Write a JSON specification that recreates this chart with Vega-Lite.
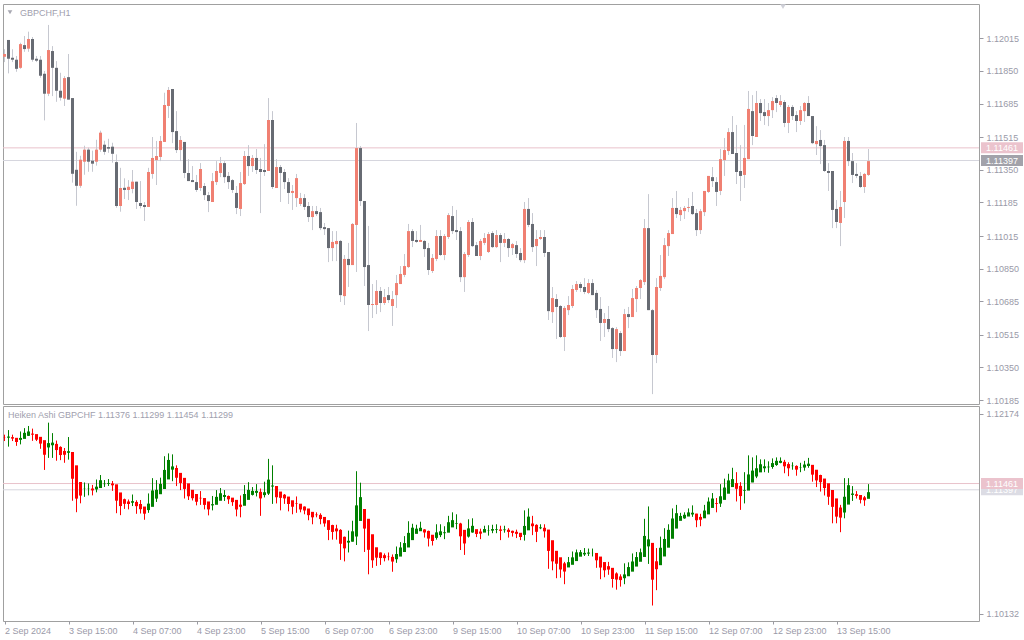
{
"$schema":"https://vega.github.io/schema/vega-lite/v6.json",
"background":"#ffffff",
"padding":{"left":2,"top":3,"right":0,"bottom":0},
"spacing":2,
"bounds":"flush",
"config":{"view":{"stroke":"#a0a0a0","strokeWidth":1},"font":"Liberation Sans","concat":{"spacing":2},"axis":{"labelOverlap":false,"labelSeparation":0},"scale":{"continuousPadding":0}},
"datasets":{
"levels":[{"lv":1.11397,"lab":"1.11397","kind":"bid"},{"lv":1.11461,"lab":"1.11461","kind":"ask"}],
"t1":[{"t":"GBPCHF,H1"}],
"t2":[{"t":"Heiken Ashi GBPCHF 1.11376 1.11299 1.11454 1.11299"}],
"bars":[
{"i":0,"o":1.11922,"h":1.11960,"l":1.11895,"c":1.11936,"ho":1.11930,"hc":1.11928},
{"i":1,"o":1.12007,"h":1.12007,"l":1.11838,"c":1.11912,"ho":1.11929,"hc":1.11941},
{"i":2,"o":1.11917,"h":1.11960,"l":1.11895,"c":1.11907,"ho":1.11935,"hc":1.11920},
{"i":3,"o":1.11907,"h":1.11926,"l":1.11846,"c":1.11861,"ho":1.11928,"hc":1.11885},
{"i":4,"o":1.11866,"h":1.11993,"l":1.11861,"c":1.11986,"ho":1.11907,"hc":1.11927},
{"i":5,"o":1.11981,"h":1.12027,"l":1.11947,"c":1.11961,"ho":1.11917,"hc":1.11979},
{"i":6,"o":1.11963,"h":1.12049,"l":1.11947,"c":1.12012,"ho":1.11948,"hc":1.11993},
{"i":7,"o":1.12012,"h":1.12022,"l":1.11897,"c":1.11907,"ho":1.11971,"hc":1.11960},
{"i":8,"o":1.11912,"h":1.11926,"l":1.11895,"c":1.11902,"ho":1.11966,"hc":1.11909},
{"i":9,"o":1.11907,"h":1.11926,"l":1.11816,"c":1.11826,"ho":1.11938,"hc":1.11869},
{"i":10,"o":1.11836,"h":1.11850,"l":1.11600,"c":1.11735,"ho":1.11904,"hc":1.11755},
{"i":11,"o":1.11735,"h":1.12083,"l":1.11723,"c":1.11956,"ho":1.11830,"hc":1.11874},
{"i":12,"o":1.11951,"h":1.11976,"l":1.11723,"c":1.11866,"ho":1.11852,"hc":1.11879},
{"i":13,"o":1.11866,"h":1.11900,"l":1.11694,"c":1.11750,"ho":1.11866,"hc":1.11803},
{"i":14,"o":1.11750,"h":1.11841,"l":1.11700,"c":1.11715,"ho":1.11835,"hc":1.11752},
{"i":15,"o":1.11710,"h":1.11824,"l":1.11673,"c":1.11814,"ho":1.11794,"hc":1.11755},
{"i":16,"o":1.11819,"h":1.11936,"l":1.11705,"c":1.11705,"ho":1.11775,"hc":1.11791},
{"i":17,"o":1.11713,"h":1.11713,"l":1.11285,"c":1.11330,"ho":1.11783,"hc":1.11510},
{"i":18,"o":1.11350,"h":1.11441,"l":1.11168,"c":1.11269,"ho":1.11647,"hc":1.11307},
{"i":19,"o":1.11269,"h":1.11421,"l":1.11259,"c":1.11401,"ho":1.11477,"hc":1.11338},
{"i":20,"o":1.11391,"h":1.11472,"l":1.11325,"c":1.11452,"ho":1.11408,"hc":1.11410},
{"i":21,"o":1.11452,"h":1.11462,"l":1.11340,"c":1.11391,"ho":1.11409,"hc":1.11411},
{"i":22,"o":1.11396,"h":1.11447,"l":1.11340,"c":1.11381,"ho":1.11410,"hc":1.11391},
{"i":23,"o":1.11391,"h":1.11502,"l":1.11371,"c":1.11452,"ho":1.11401,"hc":1.11429},
{"i":24,"o":1.11452,"h":1.11548,"l":1.11441,"c":1.11538,"ho":1.11415,"hc":1.11495},
{"i":25,"o":1.11477,"h":1.11497,"l":1.11426,"c":1.11441,"ho":1.11455,"hc":1.11460},
{"i":26,"o":1.11465,"h":1.11507,"l":1.11436,"c":1.11457,"ho":1.11458,"hc":1.11466},
{"i":27,"o":1.11467,"h":1.11487,"l":1.11386,"c":1.11431,"ho":1.11462,"hc":1.11443},
{"i":28,"o":1.11389,"h":1.11428,"l":1.11158,"c":1.11167,"ho":1.11453,"hc":1.11286},
{"i":29,"o":1.11167,"h":1.11360,"l":1.11138,"c":1.11258,"ho":1.11370,"hc":1.11231},
{"i":30,"o":1.11259,"h":1.11307,"l":1.11202,"c":1.11248,"ho":1.11301,"hc":1.11254},
{"i":31,"o":1.11248,"h":1.11298,"l":1.11197,"c":1.11264,"ho":1.11278,"hc":1.11252},
{"i":32,"o":1.11253,"h":1.11349,"l":1.11231,"c":1.11290,"ho":1.11265,"hc":1.11281},
{"i":33,"o":1.11290,"h":1.11290,"l":1.11152,"c":1.11187,"ho":1.11273,"hc":1.11230},
{"i":34,"o":1.11182,"h":1.11293,"l":1.11155,"c":1.11167,"ho":1.11252,"hc":1.11199},
{"i":35,"o":1.11172,"h":1.11187,"l":1.11091,"c":1.11162,"ho":1.11226,"hc":1.11153},
{"i":36,"o":1.11162,"h":1.11360,"l":1.11162,"c":1.11339,"ho":1.11190,"hc":1.11256},
{"i":37,"o":1.11329,"h":1.11516,"l":1.11305,"c":1.11410,"ho":1.11223,"hc":1.11390},
{"i":38,"o":1.11399,"h":1.11496,"l":1.11273,"c":1.11420,"ho":1.11307,"hc":1.11397},
{"i":39,"o":1.11415,"h":1.11521,"l":1.11394,"c":1.11496,"ho":1.11352,"hc":1.11457},
{"i":40,"o":1.11491,"h":1.11740,"l":1.11491,"c":1.11678,"ho":1.11405,"hc":1.11600},
{"i":41,"o":1.11673,"h":1.11769,"l":1.11612,"c":1.11754,"ho":1.11503,"hc":1.11702},
{"i":42,"o":1.11759,"h":1.11759,"l":1.11485,"c":1.11541,"ho":1.11603,"hc":1.11636},
{"i":43,"o":1.11546,"h":1.11647,"l":1.11435,"c":1.11450,"ho":1.11620,"hc":1.11520},
{"i":44,"o":1.11450,"h":1.11521,"l":1.11394,"c":1.11501,"ho":1.11570,"hc":1.11467},
{"i":45,"o":1.11491,"h":1.11491,"l":1.11308,"c":1.11334,"ho":1.11519,"hc":1.11406},
{"i":46,"o":1.11334,"h":1.11404,"l":1.11293,"c":1.11293,"ho":1.11463,"hc":1.11331},
{"i":47,"o":1.11298,"h":1.11369,"l":1.11288,"c":1.11288,"ho":1.11397,"hc":1.11311},
{"i":48,"o":1.11288,"h":1.11324,"l":1.11238,"c":1.11248,"ho":1.11354,"hc":1.11275},
{"i":49,"o":1.11258,"h":1.11384,"l":1.11243,"c":1.11354,"ho":1.11315,"hc":1.11310},
{"i":50,"o":1.11268,"h":1.11283,"l":1.11197,"c":1.11222,"ho":1.11313,"hc":1.11243},
{"i":51,"o":1.11222,"h":1.11238,"l":1.11136,"c":1.11192,"ho":1.11278,"hc":1.11197},
{"i":52,"o":1.11187,"h":1.11334,"l":1.11187,"c":1.11293,"ho":1.11238,"hc":1.11250},
{"i":53,"o":1.11288,"h":1.11394,"l":1.11273,"c":1.11344,"ho":1.11244,"hc":1.11325},
{"i":54,"o":1.11334,"h":1.11415,"l":1.11313,"c":1.11384,"ho":1.11285,"hc":1.11362},
{"i":55,"o":1.11384,"h":1.11394,"l":1.11283,"c":1.11313,"ho":1.11324,"hc":1.11344},
{"i":56,"o":1.11319,"h":1.11339,"l":1.11253,"c":1.11288,"ho":1.11334,"hc":1.11300},
{"i":57,"o":1.11298,"h":1.11303,"l":1.11233,"c":1.11248,"ho":1.11317,"hc":1.11271},
{"i":58,"o":1.11233,"h":1.11268,"l":1.11126,"c":1.11157,"ho":1.11294,"hc":1.11196},
{"i":59,"o":1.11152,"h":1.11339,"l":1.11116,"c":1.11283,"ho":1.11245,"hc":1.11223},
{"i":60,"o":1.11278,"h":1.11445,"l":1.11273,"c":1.11420,"ho":1.11234,"hc":1.11354},
{"i":61,"o":1.11420,"h":1.11475,"l":1.11319,"c":1.11369,"ho":1.11294,"hc":1.11396},
{"i":62,"o":1.11369,"h":1.11425,"l":1.11339,"c":1.11410,"ho":1.11345,"hc":1.11386},
{"i":63,"o":1.11410,"h":1.11455,"l":1.11329,"c":1.11349,"ho":1.11366,"hc":1.11386},
{"i":64,"o":1.11354,"h":1.11410,"l":1.11131,"c":1.11339,"ho":1.11376,"hc":1.11309},
{"i":65,"o":1.11349,"h":1.11480,"l":1.11319,"c":1.11339,"ho":1.11343,"hc":1.11372},
{"i":66,"o":1.11344,"h":1.11713,"l":1.11344,"c":1.11602,"ho":1.11358,"hc":1.11501},
{"i":67,"o":1.11602,"h":1.11647,"l":1.11253,"c":1.11263,"ho":1.11430,"hc":1.11441},
{"i":68,"o":1.11258,"h":1.11404,"l":1.11258,"c":1.11364,"ho":1.11436,"hc":1.11321},
{"i":69,"o":1.11364,"h":1.11374,"l":1.11187,"c":1.11334,"ho":1.11379,"hc":1.11315},
{"i":70,"o":1.11339,"h":1.11354,"l":1.11253,"c":1.11288,"ho":1.11347,"hc":1.11309},
{"i":71,"o":1.11288,"h":1.11308,"l":1.11177,"c":1.11233,"ho":1.11328,"hc":1.11252},
{"i":72,"o":1.11233,"h":1.11273,"l":1.11147,"c":1.11243,"ho":1.11290,"hc":1.11224},
{"i":73,"o":1.11207,"h":1.11329,"l":1.11162,"c":1.11308,"ho":1.11257,"hc":1.11252},
{"i":74,"o":1.11177,"h":1.11233,"l":1.11167,"c":1.11207,"ho":1.11255,"hc":1.11196},
{"i":75,"o":1.11207,"h":1.11227,"l":1.11147,"c":1.11162,"ho":1.11226,"hc":1.11186},
{"i":76,"o":1.11167,"h":1.11187,"l":1.11086,"c":1.11111,"ho":1.11206,"hc":1.11138},
{"i":77,"o":1.11111,"h":1.11167,"l":1.11045,"c":1.11141,"ho":1.11172,"hc":1.11116},
{"i":78,"o":1.11141,"h":1.11167,"l":1.11116,"c":1.11126,"ho":1.11144,"hc":1.11138},
{"i":79,"o":1.11136,"h":1.11157,"l":1.11045,"c":1.11055,"ho":1.11141,"hc":1.11098},
{"i":80,"o":1.11060,"h":1.11081,"l":1.11020,"c":1.11050,"ho":1.11120,"hc":1.11053},
{"i":81,"o":1.11055,"h":1.11055,"l":1.10883,"c":1.10954,"ho":1.11087,"hc":1.10987},
{"i":82,"o":1.10954,"h":1.11040,"l":1.10888,"c":1.10985,"ho":1.11037,"hc":1.10967},
{"i":83,"o":1.10974,"h":1.11040,"l":1.10888,"c":1.10990,"ho":1.11002,"hc":1.10973},
{"i":84,"o":1.10990,"h":1.10995,"l":1.10681,"c":1.10716,"ho":1.10988,"hc":1.10846},
{"i":85,"o":1.10711,"h":1.10919,"l":1.10666,"c":1.10899,"ho":1.10917,"hc":1.10799},
{"i":86,"o":1.10899,"h":1.10980,"l":1.10757,"c":1.10868,"ho":1.10858,"hc":1.10876},
{"i":87,"o":1.10868,"h":1.11081,"l":1.10868,"c":1.11076,"ho":1.10867,"hc":1.10973},
{"i":88,"o":1.11071,"h":1.11587,"l":1.10833,"c":1.11460,"ho":1.10920,"hc":1.11238},
{"i":89,"o":1.11460,"h":1.11470,"l":1.11167,"c":1.11192,"ho":1.11079,"hc":1.11322},
{"i":90,"o":1.11192,"h":1.11192,"l":1.10762,"c":1.10858,"ho":1.11201,"hc":1.11001},
{"i":91,"o":1.10868,"h":1.11066,"l":1.10534,"c":1.10666,"ho":1.11101,"hc":1.10784},
{"i":92,"o":1.10666,"h":1.10772,"l":1.10600,"c":1.10671,"ho":1.10943,"hc":1.10677},
{"i":93,"o":1.10666,"h":1.10792,"l":1.10620,"c":1.10737,"ho":1.10810,"hc":1.10704},
{"i":94,"o":1.10737,"h":1.10757,"l":1.10630,"c":1.10676,"ho":1.10757,"hc":1.10700},
{"i":95,"o":1.10676,"h":1.10747,"l":1.10666,"c":1.10706,"ho":1.10729,"hc":1.10699},
{"i":96,"o":1.10716,"h":1.10757,"l":1.10676,"c":1.10691,"ho":1.10714,"hc":1.10710},
{"i":97,"o":1.10661,"h":1.10737,"l":1.10560,"c":1.10696,"ho":1.10712,"hc":1.10664},
{"i":98,"o":1.10716,"h":1.10818,"l":1.10651,"c":1.10777,"ho":1.10688,"hc":1.10741},
{"i":99,"o":1.10772,"h":1.10863,"l":1.10772,"c":1.10823,"ho":1.10715,"hc":1.10808},
{"i":100,"o":1.10818,"h":1.10924,"l":1.10807,"c":1.10863,"ho":1.10762,"hc":1.10853},
{"i":101,"o":1.10858,"h":1.11076,"l":1.10853,"c":1.11040,"ho":1.10808,"hc":1.10957},
{"i":102,"o":1.11040,"h":1.11050,"l":1.10959,"c":1.10990,"ho":1.10883,"hc":1.11010},
{"i":103,"o":1.10995,"h":1.11040,"l":1.10980,"c":1.10985,"ho":1.10947,"hc":1.11000},
{"i":104,"o":1.10985,"h":1.11071,"l":1.10985,"c":1.10995,"ho":1.10974,"hc":1.11009},
{"i":105,"o":1.10990,"h":1.10995,"l":1.10909,"c":1.10949,"ho":1.10992,"hc":1.10961},
{"i":106,"o":1.10954,"h":1.10980,"l":1.10818,"c":1.10843,"ho":1.10977,"hc":1.10899},
{"i":107,"o":1.10838,"h":1.10924,"l":1.10828,"c":1.10904,"ho":1.10938,"hc":1.10874},
{"i":108,"o":1.10899,"h":1.11045,"l":1.10888,"c":1.11015,"ho":1.10906,"hc":1.10962},
{"i":109,"o":1.11015,"h":1.11045,"l":1.10914,"c":1.10919,"ho":1.10934,"hc":1.10973},
{"i":110,"o":1.10919,"h":1.11025,"l":1.10893,"c":1.11015,"ho":1.10954,"hc":1.10963},
{"i":111,"o":1.11010,"h":1.11131,"l":1.11000,"c":1.11121,"ho":1.10959,"hc":1.11066},
{"i":112,"o":1.11116,"h":1.11167,"l":1.11025,"c":1.11040,"ho":1.11013,"hc":1.11087},
{"i":113,"o":1.11045,"h":1.11147,"l":1.10995,"c":1.11035,"ho":1.11050,"hc":1.11056},
{"i":114,"o":1.11040,"h":1.11060,"l":1.10782,"c":1.10807,"ho":1.11053,"hc":1.10922},
{"i":115,"o":1.10807,"h":1.10934,"l":1.10732,"c":1.10924,"ho":1.10988,"hc":1.10849},
{"i":116,"o":1.10919,"h":1.11096,"l":1.10909,"c":1.11086,"ho":1.10919,"hc":1.11003},
{"i":117,"o":1.11086,"h":1.11106,"l":1.10959,"c":1.10964,"ho":1.10961,"hc":1.11029},
{"i":118,"o":1.10969,"h":1.10985,"l":1.10914,"c":1.10914,"ho":1.10995,"hc":1.10946},
{"i":119,"o":1.10914,"h":1.11000,"l":1.10893,"c":1.10990,"ho":1.10971,"hc":1.10949},
{"i":120,"o":1.10980,"h":1.11030,"l":1.10969,"c":1.11005,"ho":1.10960,"hc":1.10996},
{"i":121,"o":1.10934,"h":1.11035,"l":1.10929,"c":1.11025,"ho":1.10978,"hc":1.10981},
{"i":122,"o":1.11030,"h":1.11040,"l":1.10954,"c":1.10959,"ho":1.10980,"hc":1.10996},
{"i":123,"o":1.10959,"h":1.11045,"l":1.10954,"c":1.11020,"ho":1.10988,"hc":1.10995},
{"i":124,"o":1.11020,"h":1.11030,"l":1.10883,"c":1.10980,"ho":1.10992,"hc":1.10978},
{"i":125,"o":1.10980,"h":1.11030,"l":1.10959,"c":1.11000,"ho":1.10985,"hc":1.10992},
{"i":126,"o":1.11000,"h":1.11005,"l":1.10909,"c":1.10954,"ho":1.10989,"hc":1.10967},
{"i":127,"o":1.10954,"h":1.10980,"l":1.10919,"c":1.10974,"ho":1.10978,"hc":1.10957},
{"i":128,"o":1.10969,"h":1.10990,"l":1.10904,"c":1.10924,"ho":1.10968,"hc":1.10947},
{"i":129,"o":1.10929,"h":1.10954,"l":1.10883,"c":1.10893,"ho":1.10958,"hc":1.10915},
{"i":130,"o":1.10893,"h":1.11187,"l":1.10878,"c":1.11152,"ho":1.10937,"hc":1.11028},
{"i":131,"o":1.11152,"h":1.11207,"l":1.11060,"c":1.11071,"ho":1.10983,"hc":1.11123},
{"i":132,"o":1.11076,"h":1.11131,"l":1.10934,"c":1.10959,"ho":1.11053,"hc":1.11025},
{"i":133,"o":1.10964,"h":1.11045,"l":1.10863,"c":1.11000,"ho":1.11039,"hc":1.10968},
{"i":134,"o":1.11000,"h":1.11045,"l":1.10995,"c":1.11010,"ho":1.11004,"hc":1.11013},
{"i":135,"o":1.11010,"h":1.11045,"l":1.10909,"c":1.10929,"ho":1.11009,"hc":1.10973},
{"i":136,"o":1.10934,"h":1.10934,"l":1.10590,"c":1.10635,"ho":1.10991,"hc":1.10773},
{"i":137,"o":1.10630,"h":1.10757,"l":1.10575,"c":1.10701,"ho":1.10882,"hc":1.10666},
{"i":138,"o":1.10696,"h":1.10721,"l":1.10494,"c":1.10656,"ho":1.10774,"hc":1.10642},
{"i":139,"o":1.10661,"h":1.10666,"l":1.10499,"c":1.10504,"ho":1.10708,"hc":1.10583},
{"i":140,"o":1.10504,"h":1.10661,"l":1.10433,"c":1.10651,"ho":1.10646,"hc":1.10562},
{"i":141,"o":1.10640,"h":1.10711,"l":1.10615,"c":1.10666,"ho":1.10604,"hc":1.10658},
{"i":142,"o":1.10661,"h":1.10767,"l":1.10651,"c":1.10747,"ho":1.10631,"hc":1.10707},
{"i":143,"o":1.10742,"h":1.10787,"l":1.10732,"c":1.10772,"ho":1.10669,"hc":1.10758},
{"i":144,"o":1.10772,"h":1.10782,"l":1.10732,"c":1.10752,"ho":1.10714,"hc":1.10760},
{"i":145,"o":1.10757,"h":1.10802,"l":1.10721,"c":1.10732,"ho":1.10737,"hc":1.10753},
{"i":146,"o":1.10727,"h":1.10797,"l":1.10721,"c":1.10777,"ho":1.10745,"hc":1.10756},
{"i":147,"o":1.10777,"h":1.10797,"l":1.10716,"c":1.10716,"ho":1.10751,"hc":1.10752},
{"i":148,"o":1.10727,"h":1.10742,"l":1.10600,"c":1.10640,"ho":1.10752,"hc":1.10677},
{"i":149,"o":1.10646,"h":1.10706,"l":1.10484,"c":1.10575,"ho":1.10715,"hc":1.10603},
{"i":150,"o":1.10575,"h":1.10625,"l":1.10504,"c":1.10595,"ho":1.10659,"hc":1.10575},
{"i":151,"o":1.10595,"h":1.10661,"l":1.10529,"c":1.10544,"ho":1.10617,"hc":1.10582},
{"i":152,"o":1.10549,"h":1.10554,"l":1.10398,"c":1.10443,"ho":1.10600,"hc":1.10486},
{"i":153,"o":1.10443,"h":1.10554,"l":1.10377,"c":1.10544,"ho":1.10543,"hc":1.10480},
{"i":154,"o":1.10524,"h":1.10534,"l":1.10408,"c":1.10433,"ho":1.10512,"hc":1.10475},
{"i":155,"o":1.10433,"h":1.10646,"l":1.10433,"c":1.10620,"ho":1.10494,"hc":1.10533},
{"i":156,"o":1.10620,"h":1.10656,"l":1.10549,"c":1.10605,"ho":1.10514,"hc":1.10608},
{"i":157,"o":1.10605,"h":1.10747,"l":1.10605,"c":1.10701,"ho":1.10561,"hc":1.10665},
{"i":158,"o":1.10696,"h":1.10762,"l":1.10630,"c":1.10752,"ho":1.10613,"hc":1.10710},
{"i":159,"o":1.10752,"h":1.10797,"l":1.10696,"c":1.10792,"ho":1.10662,"hc":1.10759},
{"i":160,"o":1.10782,"h":1.11101,"l":1.10767,"c":1.11055,"ho":1.10711,"hc":1.10926},
{"i":161,"o":1.11055,"h":1.11227,"l":1.10640,"c":1.10640,"ho":1.10819,"hc":1.10891},
{"i":162,"o":1.10640,"h":1.10646,"l":1.10215,"c":1.10413,"ho":1.10855,"hc":1.10479},
{"i":163,"o":1.10413,"h":1.10802,"l":1.10372,"c":1.10757,"ho":1.10667,"hc":1.10586},
{"i":164,"o":1.10752,"h":1.10919,"l":1.10737,"c":1.10813,"ho":1.10627,"hc":1.10805},
{"i":165,"o":1.10807,"h":1.11005,"l":1.10797,"c":1.10969,"ho":1.10716,"hc":1.10895},
{"i":166,"o":1.10964,"h":1.11045,"l":1.10914,"c":1.11030,"ho":1.10806,"hc":1.10988},
{"i":167,"o":1.11025,"h":1.11207,"l":1.11025,"c":1.11157,"ho":1.10897,"hc":1.11104},
{"i":168,"o":1.11157,"h":1.11243,"l":1.11106,"c":1.11126,"ho":1.11001,"hc":1.11158},
{"i":169,"o":1.11121,"h":1.11162,"l":1.11091,"c":1.11147,"ho":1.11080,"hc":1.11130},
{"i":170,"o":1.11141,"h":1.11167,"l":1.11101,"c":1.11157,"ho":1.11105,"hc":1.11142},
{"i":171,"o":1.11157,"h":1.11207,"l":1.11136,"c":1.11162,"ho":1.11124,"hc":1.11166},
{"i":172,"o":1.11167,"h":1.11238,"l":1.11121,"c":1.11126,"ho":1.11145,"hc":1.11163},
{"i":173,"o":1.11131,"h":1.11152,"l":1.11015,"c":1.11045,"ho":1.11154,"hc":1.11086},
{"i":174,"o":1.11045,"h":1.11152,"l":1.11025,"c":1.11141,"ho":1.11120,"hc":1.11091},
{"i":175,"o":1.11136,"h":1.11243,"l":1.11116,"c":1.11243,"ho":1.11106,"hc":1.11185},
{"i":176,"o":1.11238,"h":1.11319,"l":1.11233,"c":1.11319,"ho":1.11146,"hc":1.11277},
{"i":177,"o":1.11313,"h":1.11364,"l":1.11263,"c":1.11293,"ho":1.11212,"hc":1.11308},
{"i":178,"o":1.11288,"h":1.11313,"l":1.11167,"c":1.11238,"ho":1.11260,"hc":1.11252},
{"i":179,"o":1.11243,"h":1.11455,"l":1.11222,"c":1.11404,"ho":1.11256,"hc":1.11331},
{"i":180,"o":1.11399,"h":1.11511,"l":1.11319,"c":1.11450,"ho":1.11294,"hc":1.11420},
{"i":181,"o":1.11445,"h":1.11561,"l":1.11425,"c":1.11541,"ho":1.11357,"hc":1.11493},
{"i":182,"o":1.11541,"h":1.11622,"l":1.11430,"c":1.11430,"ho":1.11425,"hc":1.11506},
{"i":183,"o":1.11435,"h":1.11577,"l":1.11278,"c":1.11339,"ho":1.11466,"hc":1.11407},
{"i":184,"o":1.11344,"h":1.11475,"l":1.11192,"c":1.11319,"ho":1.11437,"hc":1.11333},
{"i":185,"o":1.11324,"h":1.11577,"l":1.11258,"c":1.11410,"ho":1.11385,"hc":1.11392},
{"i":186,"o":1.11404,"h":1.11749,"l":1.11404,"c":1.11658,"ho":1.11389,"hc":1.11554},
{"i":187,"o":1.11647,"h":1.11728,"l":1.11475,"c":1.11521,"ho":1.11472,"hc":1.11593},
{"i":188,"o":1.11516,"h":1.11749,"l":1.11516,"c":1.11688,"ho":1.11533,"hc":1.11617},
{"i":189,"o":1.11688,"h":1.11708,"l":1.11597,"c":1.11637,"ho":1.11575,"hc":1.11658},
{"i":190,"o":1.11642,"h":1.11708,"l":1.11577,"c":1.11622,"ho":1.11617,"hc":1.11637},
{"i":191,"o":1.11622,"h":1.11688,"l":1.11571,"c":1.11652,"ho":1.11627,"hc":1.11633},
{"i":192,"o":1.11652,"h":1.11718,"l":1.11612,"c":1.11698,"ho":1.11630,"hc":1.11670},
{"i":193,"o":1.11713,"h":1.11728,"l":1.11642,"c":1.11688,"ho":1.11650,"hc":1.11693},
{"i":194,"o":1.11678,"h":1.11728,"l":1.11668,"c":1.11698,"ho":1.11672,"hc":1.11693},
{"i":195,"o":1.11693,"h":1.11703,"l":1.11566,"c":1.11587,"ho":1.11683,"hc":1.11637},
{"i":196,"o":1.11587,"h":1.11678,"l":1.11536,"c":1.11668,"ho":1.11660,"hc":1.11617},
{"i":197,"o":1.11668,"h":1.11678,"l":1.11602,"c":1.11622,"ho":1.11639,"hc":1.11643},
{"i":198,"o":1.11627,"h":1.11647,"l":1.11541,"c":1.11597,"ho":1.11641,"hc":1.11603},
{"i":199,"o":1.11597,"h":1.11673,"l":1.11577,"c":1.11652,"ho":1.11622,"hc":1.11625},
{"i":200,"o":1.11647,"h":1.11693,"l":1.11592,"c":1.11688,"ho":1.11624,"hc":1.11655},
{"i":201,"o":1.11688,"h":1.11723,"l":1.11622,"c":1.11622,"ho":1.11640,"hc":1.11664},
{"i":202,"o":1.11622,"h":1.11622,"l":1.11480,"c":1.11485,"ho":1.11652,"hc":1.11552},
{"i":203,"o":1.11480,"h":1.11571,"l":1.11425,"c":1.11496,"ho":1.11602,"hc":1.11493},
{"i":204,"o":1.11501,"h":1.11551,"l":1.11379,"c":1.11470,"ho":1.11548,"hc":1.11475},
{"i":205,"o":1.11475,"h":1.11501,"l":1.11339,"c":1.11344,"ho":1.11512,"hc":1.11415},
{"i":206,"o":1.11344,"h":1.11384,"l":1.11243,"c":1.11334,"ho":1.11464,"hc":1.11326},
{"i":207,"o":1.11344,"h":1.11344,"l":1.11055,"c":1.11147,"ho":1.11395,"hc":1.11223},
{"i":208,"o":1.11152,"h":1.11197,"l":1.11055,"c":1.11086,"ho":1.11309,"hc":1.11123},
{"i":209,"o":1.11081,"h":1.11243,"l":1.10964,"c":1.11162,"ho":1.11216,"hc":1.11113},
{"i":210,"o":1.11187,"h":1.11516,"l":1.11106,"c":1.11496,"ho":1.11165,"hc":1.11326},
{"i":211,"o":1.11496,"h":1.11516,"l":1.11369,"c":1.11394,"ho":1.11246,"hc":1.11444},
{"i":212,"o":1.11394,"h":1.11435,"l":1.11283,"c":1.11324,"ho":1.11345,"hc":1.11359},
{"i":213,"o":1.11329,"h":1.11384,"l":1.11308,"c":1.11319,"ho":1.11352,"hc":1.11335},
{"i":214,"o":1.11319,"h":1.11339,"l":1.11258,"c":1.11263,"ho":1.11344,"hc":1.11295},
{"i":215,"o":1.11263,"h":1.11334,"l":1.11233,"c":1.11329,"ho":1.11320,"hc":1.11290},
{"i":216,"o":1.11324,"h":1.11455,"l":1.11319,"c":1.11394,"ho":1.11305,"hc":1.11373}
]},
"vconcat":[
{"width":976,"height":400,
"layer":[
{"data":{"name":"levels"},"mark":{"type":"rule","strokeWidth":1},
"encoding":{"y":{"field":"lv","type":"quantitative","scale":{"domain":[1.10165,1.12189],"nice":false,"zero":false,"padding":0},
"axis":{"orient":"right","values":[1.12015,1.1185,1.11685,1.11515,1.1135,1.11185,1.11015,1.1085,1.10685,1.10515,1.1035,1.10185],"tickCount":40,"format":".5f","title":null,"grid":false,"domain":false,"tickSize":4,"tickColor":"#9a9aa2","labelPadding":3,"labelFontSize":9,"labelColor":"#9a9aa8","labelFont":"Liberation Sans","labelOverlap":false,"labelSeparation":0,"labelBound":false,"labelFlush":false}},
"color":{"condition":{"test":"datum.kind == 'ask'","value":"#e9c3cb"},"value":"#d6d6de"}}},
{"data":{"name":"bars"},"mark":{"type":"rule","color":"#c6c8d0","strokeWidth":1},
"encoding":{"x":{"field":"i","type":"quantitative","scale":{"domain":[-0.375,243.625],"nice":false,"zero":false,"padding":0},"axis":null},
"y":{"field":"l","type":"quantitative"},"y2":{"field":"h"}}},
{"data":{"name":"bars"},"mark":{"type":"bar","size":3},
"encoding":{"x":{"field":"i","type":"quantitative"},"y":{"field":"o","type":"quantitative"},"y2":{"field":"c"},
"color":{"condition":{"test":"datum.c >= datum.o","value":"#f08072"},"value":"#676b73"}}},
{"data":{"name":"levels"},"transform":[{"filter":"datum.kind == 'bid'"}],"mark":{"type":"rule","strokeWidth":11,"color":"#a2a2aa"},
"encoding":{"x":{"datum":244.125,"type":"quantitative"},"x2":{"datum":254.625},"y":{"field":"lv","type":"quantitative"}}},
{"data":{"name":"levels"},"transform":[{"filter":"datum.kind == 'bid'"}],"mark":{"type":"text","color":"#ffffff","fontSize":9,"align":"center","baseline":"middle"},
"encoding":{"x":{"datum":249.375,"type":"quantitative"},"y":{"field":"lv","type":"quantitative"},"text":{"field":"lab"}}},
{"data":{"name":"levels"},"transform":[{"filter":"datum.kind == 'ask'"}],"mark":{"type":"rule","strokeWidth":11,"color":"#ebc3cd"},
"encoding":{"x":{"datum":244.125,"type":"quantitative"},"x2":{"datum":254.625},"y":{"field":"lv","type":"quantitative"}}},
{"data":{"name":"levels"},"transform":[{"filter":"datum.kind == 'ask'"}],"mark":{"type":"text","color":"#ffffff","fontSize":9,"align":"center","baseline":"middle"},
"encoding":{"x":{"datum":249.375,"type":"quantitative"},"y":{"field":"lv","type":"quantitative"},"text":{"field":"lab"}}},
{"data":{"name":"t1"},"mark":{"type":"text","color":"#a0a0ae","fontSize":9,"align":"left","baseline":"middle"},
"encoding":{"x":{"datum":3.875,"type":"quantitative"},"y":{"datum":1.121455,"type":"quantitative"},"text":{"field":"t"}}},
{"data":{"name":"t1"},"mark":{"type":"point","shape":"triangle-down","filled":true,"size":22,"color":"#a8a8b2","opacity":1},
"encoding":{"x":{"datum":1.375,"type":"quantitative"},"y":{"datum":1.12147,"type":"quantitative"}}},
{"data":{"name":"t1"},"mark":{"type":"point","shape":"triangle-down","filled":true,"size":30,"color":"#cfd0d8","opacity":1},
"encoding":{"x":{"datum":194.625,"type":"quantitative"},"y":{"datum":1.12176,"type":"quantitative"}}}
]},
{"width":976,"height":215,
"layer":[
{"data":{"name":"levels"},"mark":{"type":"rule","strokeWidth":1},
"encoding":{"y":{"field":"lv","type":"quantitative","scale":{"domain":[1.10057,1.12253],"nice":false,"zero":false,"padding":0},
"axis":{"orient":"right","values":[1.12174,1.10132],"tickCount":40,"format":".5f","title":null,"grid":false,"domain":false,"tickSize":4,"tickColor":"#9a9aa2","labelPadding":3,"labelFontSize":9,"labelColor":"#9a9aa8","labelFont":"Liberation Sans","labelOverlap":false,"labelBound":false,"labelFlush":false}},
"color":{"condition":{"test":"datum.kind == 'ask'","value":"#e9c3cb"},"value":"#d6d6de"}}},
{"data":{"name":"bars"},"mark":{"type":"rule","strokeWidth":1},
"encoding":{"x":{"field":"i","type":"quantitative","scale":{"domain":[-0.375,243.625],"nice":false,"zero":false,"padding":0},
"axis":{"orient":"bottom","values":[0,16,32,48,64,80,96,112,128,144,160,176,192,208],"tickCount":40,"labelExpr":"['2 Sep 2024','3 Sep 15:00','4 Sep 07:00','4 Sep 23:00','5 Sep 15:00','6 Sep 07:00','6 Sep 23:00','9 Sep 15:00','10 Sep 07:00','10 Sep 23:00','11 Sep 15:00','12 Sep 07:00','12 Sep 23:00','13 Sep 15:00'][round(datum.value/16)]","title":null,"grid":false,"domain":false,"tickSize":3,"tickColor":"#9a9aa2","labelPadding":2,"labelAlign":"left","labelFontSize":9,"labelColor":"#9a9aa8","labelFont":"Liberation Sans","labelOverlap":false,"labelBound":false,"labelFlush":false}},
"y":{"field":"l","type":"quantitative"},"y2":{"field":"h"},
"color":{"condition":{"test":"datum.hc > datum.ho","value":"#008000"},"value":"#ff0000"}}},
{"data":{"name":"bars"},"mark":{"type":"bar","size":3},
"encoding":{"x":{"field":"i","type":"quantitative"},"y":{"field":"ho","type":"quantitative"},"y2":{"field":"hc"},
"color":{"condition":{"test":"datum.hc > datum.ho","value":"#008000"},"value":"#ff0000"}}},
{"data":{"name":"levels"},"transform":[{"filter":"datum.kind == 'bid'"}],"mark":{"type":"rule","strokeWidth":11,"color":"#dcdce4"},
"encoding":{"x":{"datum":244.125,"type":"quantitative"},"x2":{"datum":254.625},"y":{"field":"lv","type":"quantitative"}}},
{"data":{"name":"levels"},"transform":[{"filter":"datum.kind == 'bid'"}],"mark":{"type":"text","color":"#ffffff","fontSize":9,"align":"center","baseline":"middle"},
"encoding":{"x":{"datum":249.375,"type":"quantitative"},"y":{"field":"lv","type":"quantitative"},"text":{"field":"lab"}}},
{"data":{"name":"levels"},"transform":[{"filter":"datum.kind == 'ask'"}],"mark":{"type":"rule","strokeWidth":11,"color":"#ebc3cd"},
"encoding":{"x":{"datum":244.125,"type":"quantitative"},"x2":{"datum":254.625},"y":{"field":"lv","type":"quantitative"}}},
{"data":{"name":"levels"},"transform":[{"filter":"datum.kind == 'ask'"}],"mark":{"type":"text","color":"#ffffff","fontSize":9,"align":"center","baseline":"middle"},
"encoding":{"x":{"datum":249.375,"type":"quantitative"},"y":{"field":"lv","type":"quantitative"},"text":{"field":"lab"}}},
{"data":{"name":"t2"},"mark":{"type":"text","color":"#a0a0ae","fontSize":9,"align":"left","baseline":"middle"},
"encoding":{"x":{"datum":0.875,"type":"quantitative"},"y":{"datum":1.1216,"type":"quantitative"},"text":{"field":"t"}}}
]}
]
}
